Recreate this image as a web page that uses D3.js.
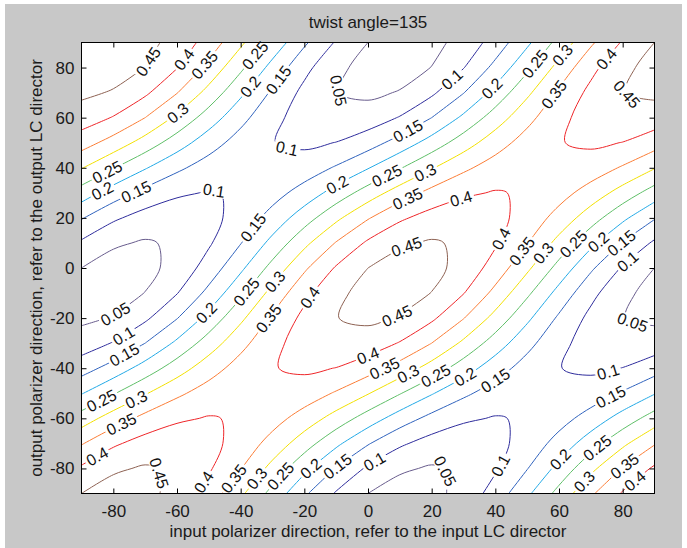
<!DOCTYPE html>
<html>
<head>
<meta charset="utf-8">
<script src="https://cdn.jsdelivr.net/npm/d3@7"></script>
<style>
body { margin: 0; background: #fff; }
text { font-family: "Liberation Sans", Arial, Helvetica, sans-serif; }
</style>
</head>
<body>
<div id="chart"></div>
<script>
var chartTitle = 'twist angle=135';
var xLabel = 'input polarizer direction, refer to the input LC director';
var yLabel = 'output polarizer direction, refer to the output LC director';

var xTicks = [-80, -60, -40, -20, 0, 20, 40, 60, 80];
var yTicks = [-80, -60, -40, -20, 0, 20, 40, 60, 80];

//contour levels
var levels = [0.05, 0.1, 0.15, 0.2, 0.25, 0.3, 0.35, 0.4, 0.45];

//sample positions (degrees)
var gridX = [-90, -80, -70, -60, -50, -40, -30, -20, -10, 0, 10, 20, 30, 40, 50, 60, 70, 80, 90];
var gridY = [-90, -80, -70, -60, -50, -40, -30, -20, -10, 0, 10, 20, 30, 40, 50, 60, 70, 80, 90];

//transmission, one row per gridY value (bottom to top), one column per gridX value
var transmission = [
	[.450, .471, .465, .433, .379, .310, .233, .158, .095, .050, .029, .035, .067, .121, .190, .267, .342, .405, .450],
	[.408, .443, .455, .442, .406, .352, .284, .213, .147, .092, .057, .045, .058, .094, .148, .215, .287, .353, .408],
	[.346, .392, .420, .428, .415, .381, .332, .273, .211, .154, .108, .080, .072, .085, .119, .168, .227, .289, .346],
	[.273, .324, .365, .393, .403, .395, .369, .329, .280, .227, .176, .135, .107, .097, .105, .131, .170, .220, .273],
	[.197, .246, .296, .340, .373, .391, .393, .377, .345, .303, .253, .204, .160, .127, .109, .107, .123, .155, .197],
	[.128, .170, .221, .276, .328, .371, .398, .408, .399, .372, .330, .279, .224, .172, .129, .101, .091, .101, .128],
	[.073, .103, .150, .210, .274, .335, .387, .421, .435, .427, .397, .350, .290, .226, .165, .113, .079, .065, .073],
	[.040, .053, .091, .148, .217, .290, .358, .413, .449, .460, .446, .409, .352, .283, .210, .142, .087, .051, .040],
	[.032, .028, .051, .098, .164, .239, .317, .386, .438, .468, .472, .449, .402, .336, .260, .183, .114, .062, .032],
	[.050, .029, .035, .067, .121, .190, .267, .342, .405, .450, .471, .465, .433, .379, .310, .233, .158, .095, .050],
	[.092, .057, .045, .058, .094, .148, .215, .287, .353, .408, .443, .455, .442, .406, .352, .284, .213, .147, .092],
	[.154, .108, .080, .072, .085, .119, .168, .227, .289, .346, .392, .420, .428, .415, .381, .332, .273, .211, .154],
	[.227, .176, .135, .107, .097, .105, .131, .170, .220, .273, .324, .365, .393, .403, .395, .369, .329, .280, .227],
	[.303, .253, .204, .160, .127, .109, .107, .123, .155, .197, .246, .296, .340, .373, .391, .393, .377, .345, .303],
	[.372, .330, .279, .224, .172, .129, .101, .091, .101, .128, .170, .221, .276, .328, .371, .398, .408, .399, .372],
	[.427, .397, .350, .290, .226, .165, .113, .079, .065, .073, .103, .150, .210, .274, .335, .387, .421, .435, .427],
	[.460, .446, .409, .352, .283, .210, .142, .087, .051, .040, .053, .091, .148, .217, .290, .358, .413, .449, .460],
	[.468, .472, .449, .402, .336, .260, .183, .114, .062, .032, .028, .051, .098, .164, .239, .317, .386, .438, .468],
	[.450, .471, .465, .433, .379, .310, .233, .158, .095, .050, .029, .035, .067, .121, .190, .267, .342, .405, .450]
];

//where the inline labels sit: [level, x, y]
var labelHints = [
	[0.45, -67.9, 81.1], [0.4, -56.5, 81.9], [0.35, -50.5, 80.3], [0.25, -36.3, 85.9],
	[0.2, -37, 72.3], [0.15, -28.5, 75.1], [0.3, -59, 60.3], [0.1, -25.9, 45.1],
	[0.05, -10.2, 71.1], [0.25, -81.7, 37.9], [0.2, -83.6, 31.1], [0.15, -72.6, 29.1],
	[0.1, -48.6, 28.3], [0.15, -36, 16.4], [0.2, -9.2, 32],
	[0.1, 27.6, 73.9], [0.2, 39.6, 71.1], [0.25, 52.2, 81.9], [0.3, 61.3, 85.1],
	[0.35, 57.6, 69.9], [0.4, 74.9, 83.1], [0.45, 80.2, 67.1], [0.15, 13.4, 52.3],
	[0.25, 6.2, 36], [0.3, 18.2, 37.2], [0.35, 12.5, 27.2], [0.4, 29.8, 25.9],
	[0.45, 11.9, 9.2], [0.4, 42.5, 11.2], [0.35, 48.8, 6.4], [0.3, 56.6, 4.4],
	[0.25, 64.8, 9.2], [0.2, 71.7, 11.2], [0.15, 79.6, 10], [0.1, 81.2, 3.2],
	[0.05, -78.9, -18.8], [0.1, -75.7, -29.6], [0.15, -75.7, -36], [0.2, -50.2, -18.8],
	[0.25, -37.9, -9.6], [0.3, -29.1, -5.6], [0.35, -31.6, -20], [0.4, -18.1, -11.6],
	[0.25, -83.6, -53.6], [0.3, -72.2, -53.6], [0.35, -77.3, -62.7], [0.4, -84.9, -75.5],
	[0.45, -65.3, -81.9], [0.4, -51.2, -85.5], [0.35, -42.3, -83.9], [0.3, -34.4, -84.7],
	[0.25, -26.6, -83.9], [0.2, -18.1, -79.9], [0.15, -9.6, -79.5],
	[0.45, 9.7, -20], [0.4, 0.9, -37.6], [0.35, 5.6, -41.6], [0.3, 13.4, -44],
	[0.25, 22.2, -44.8], [0.2, 31.4, -44.8], [0.15, 40.9, -46.8], [0.15, 76.5, -51.9],
	[0.1, 75.8, -42.8], [0.05, 82.1, -24.8], [0.1, 2.4, -78], [0.05, 23.5, -81.5],
	[0.1, 41.2, -78.8], [0.2, 60.1, -76], [0.25, 71.8, -71.6], [0.3, 68, -85.5],
	[0.35, 80.6, -79.5], [0.4, 84.4, -85.9]
];

var levelColors = ['#675b8c', '#2e2c9c', '#2f62bd', '#22a9e6', '#5fbf68', '#f2e000', '#fb7d36', '#ee2528', '#8d6152'];

var W = 687, H = 548;

var x = d3.scaleLinear().domain([-90, 90]).range([81.5, 654.5]);
var y = d3.scaleLinear().domain([-90, 90]).range([493.5, 42.5]);
var pLeft = x.range()[0], pRight = x.range()[1], pTop = y.range()[1], pBottom = y.range()[0];

var svg = d3.select('#chart').append('svg')
	.attr('width', W)
	.attr('height', H);

svg.append('rect').attr('width', W).attr('height', H).attr('fill', '#fff');
svg.append('rect').attr('x', 5).attr('y', 4).attr('width', W - 10).attr('height', H - 4).attr('fill', '#c8c8c8');
svg.append('rect')
	.attr('x', pLeft).attr('y', pTop)
	.attr('width', pRight - pLeft).attr('height', pBottom - pTop)
	.attr('fill', '#fff');

var defs = svg.append('defs');
defs.append('clipPath').attr('id', 'plotClip')
	.append('rect')
	.attr('x', pLeft).attr('y', pTop)
	.attr('width', pRight - pLeft).attr('height', pBottom - pTop);

/********************** CONTOURS *************************/

var nx = gridX.length, ny = gridY.length;
var flat = [];
transmission.forEach(function(row) { flat = flat.concat(row); });

var iso = d3.contours().size([nx, ny]).thresholds(levels)(flat);

//d3 puts sample i at i + 0.5
var gx = d3.scaleLinear().domain([0.5, nx - 0.5]).range([gridX[0], gridX[nx - 1]]);
var gy = d3.scaleLinear().domain([0.5, ny - 0.5]).range([gridY[0], gridY[ny - 1]]);

function onBorder(p) { return p[0] === 0 || p[0] === nx || p[1] === 0 || p[1] === ny; }

//turn the filled rings into isolines: drop the parts that run along the grid border
var lines = [];
iso.forEach(function(c, li) {
	c.coordinates.forEach(function(poly) {
		poly.forEach(function(ring) {
			var pts = ring.slice(0, ring.length - 1);
			var n = pts.length;
			var first = -1;
			for (var k = 0; k < n; k++) {
				if (onBorder(pts[k])) { first = k; break; }
			}
			if (first < 0) {
				lines.push({level: li, closed: true, pts: pts});
				return;
			}
			var cur = [];
			for (var m = 1; m <= n; m++) {
				var p = pts[(first + m) % n];
				if (onBorder(p)) {
					if (cur.length > 1) lines.push({level: li, closed: false, pts: cur});
					cur = [];
				} else {
					cur.push(p);
				}
			}
		});
	});
});

var openLine = d3.line()
	.x(function(d) { return x(gx(d[0])); })
	.y(function(d) { return y(gy(d[1])); })
	.curve(d3.curveCatmullRom.alpha(0.5));
var closedLine = d3.line()
	.x(function(d) { return x(gx(d[0])); })
	.y(function(d) { return y(gy(d[1])); })
	.curve(d3.curveCatmullRomClosed.alpha(0.5));

var contourG = svg.append('g').attr('clip-path', 'url(#plotClip)');

lines.forEach(function(l, k) {
	l.id = k;
	l.node = contourG.append('path')
		.attr('d', (l.closed ? closedLine : openLine)(l.pts))
		.attr('fill', 'none')
		.attr('stroke', levelColors[l.level])
		.attr('stroke-width', 1)
		.node();
	l.len = l.node.getTotalLength();
});

/********************** INLINE LABELS *************************/

var labelG = svg.append('g');

function pointAt(l, s) {
	if (l.closed) s = ((s % l.len) + l.len) % l.len;
	else s = Math.max(0, Math.min(l.len, s));
	return l.node.getPointAtLength(s);
}

labelHints.forEach(function(h) {
	var li = levels.findIndex(function(v) { return Math.abs(v - h[0]) < 1e-9; });
	var hx = x(h[1]), hy = y(h[2]);
	var best = null;
	lines.forEach(function(l) {
		if (l.level !== li) return;
		for (var s = 0; s <= l.len; s += 1.5) {
			var p = l.node.getPointAtLength(s);
			if (p.x < pLeft + 4 || p.x > pRight - 4 || p.y < pTop + 4 || p.y > pBottom - 4) continue;
			var d = (p.x - hx) * (p.x - hx) + (p.y - hy) * (p.y - hy);
			if (!best || d < best.d) best = {d: d, s: s, l: l, p: p};
		}
	});
	if (!best) return;

	var a = pointAt(best.l, best.s - 7), b = pointAt(best.l, best.s + 7);
	var ang = Math.atan2(b.y - a.y, b.x - a.x) * 180 / Math.PI;
	if (ang > 90) ang -= 180;
	if (ang < -90) ang += 180;
	var tr = 'translate(' + best.p.x + ',' + best.p.y + ') rotate(' + ang + ')';

	var t = labelG.append('text')
		.attr('transform', tr)
		.attr('text-anchor', 'middle')
		.attr('dy', '0.36em')
		.style('font-size', '16px')
		.attr('fill', '#111')
		.text(String(h[0]));
	var w = t.node().getComputedTextLength();

	//cut a gap into the line under the label
	var l = best.l;
	if (!l.mask) {
		l.mask = defs.append('mask')
			.attr('id', 'gap' + l.id)
			.attr('maskUnits', 'userSpaceOnUse')
			.attr('x', 0).attr('y', 0).attr('width', W).attr('height', H);
		l.mask.append('rect').attr('width', W).attr('height', H).attr('fill', '#fff');
		d3.select(l.node).attr('mask', 'url(#gap' + l.id + ')');
	}
	l.mask.append('rect')
		.attr('transform', tr)
		.attr('x', -w / 2 - 2).attr('y', -7)
		.attr('width', w + 4).attr('height', 14)
		.attr('fill', '#000');
});

/********************** AXES *************************/

var fmt = function(d) { return String(d); };

function styleAxis(g) {
	g.select('.domain').remove();
	g.attr('font-size', 17)
		.attr('font-family', '"Liberation Sans", Arial, Helvetica, sans-serif');
	g.selectAll('text').attr('fill', '#1a1a1a');
}

svg.append('g')
	.attr('transform', 'translate(0,' + pBottom + ')')
	.call(d3.axisBottom(x).tickValues(xTicks).tickSize(-5).tickPadding(11).tickFormat(fmt))
	.call(styleAxis);
svg.append('g')
	.attr('transform', 'translate(0,' + pTop + ')')
	.call(d3.axisTop(x).tickValues(xTicks).tickSize(-5).tickFormat(''))
	.call(styleAxis);
svg.append('g')
	.attr('transform', 'translate(' + pLeft + ',0)')
	.call(d3.axisLeft(y).tickValues(yTicks).tickSize(-5).tickPadding(7).tickFormat(fmt))
	.call(styleAxis);
svg.append('g')
	.attr('transform', 'translate(' + pRight + ',0)')
	.call(d3.axisRight(y).tickValues(yTicks).tickSize(-5).tickFormat(''))
	.call(styleAxis);

svg.append('rect')
	.attr('x', pLeft).attr('y', pTop)
	.attr('width', pRight - pLeft).attr('height', pBottom - pTop)
	.attr('fill', 'none')
	.attr('stroke', '#000')
	.attr('stroke-width', 1);

svg.append('text')
	.attr('x', (pLeft + pRight) / 2).attr('y', 28)
	.attr('text-anchor', 'middle')
	.style('font-size', '17px')
	.attr('fill', '#1a1a1a')
	.text(chartTitle);

svg.append('text')
	.attr('x', (pLeft + pRight) / 2).attr('y', 537)
	.attr('text-anchor', 'middle')
	.style('font-size', '17px')
	.attr('fill', '#1a1a1a')
	.text(xLabel);

svg.append('text')
	.attr('transform', 'translate(42,' + (pTop + pBottom) / 2 + ') rotate(-90)')
	.attr('text-anchor', 'middle')
	.style('font-size', '17px')
	.attr('fill', '#1a1a1a')
	.text(yLabel);
</script>
</body>
</html>
